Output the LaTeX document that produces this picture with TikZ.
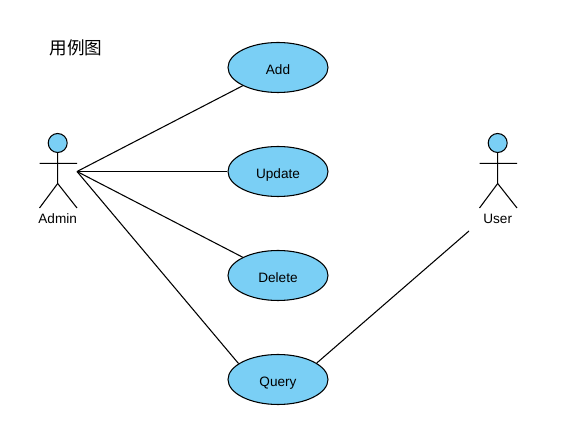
\documentclass[tikz,border=0pt]{standalone}
\usepackage{fontspec}
\setmainfont{Liberation Sans}
\newfontfamily\cjk{Noto Sans CJK SC}
\usetikzlibrary{shapes.geometric}

\definecolor{usecase}{RGB}{122,207,245}

\begin{document}
\begin{tikzpicture}[-,x=0.75pt,y=-0.75pt,node distance=78pt,
  line width=0.8pt,
  case node/.style={ellipse,fill=usecase,draw,minimum width=75pt,minimum height=37.5pt,inner sep=0pt,text depth=0pt,text height=9.8pt,font=\fontsize{10.2}{12}\selectfont},
  head node/.style={circle,fill=usecase,draw,minimum size=14.25pt,inner sep=0pt},
  actor label/.style={font=\fontsize{10.2}{12}\selectfont,inner sep=0pt}]

  \useasboundingbox (0,0) rectangle (586,441);

  \node[case node] (add) at (278,67.5) {Add};
  \node[case node] (update) [below of=add] {Update};
  \node[case node] (delete) [below of=update] {Delete};
  \node[case node] (query) [below of=delete] {Query};

  \node[inner sep=0pt,font=\fontsize{13.2}{15}\selectfont\cjk] (title) at (76,48) {用例图};

  % Admin
  \node[head node] (adminhead) at (57.7,143) {};
  \node[actor label] (admin) at (57.7,219) {Admin};
  \coordinate (adminhip) at (57.7,183.5);
  \coordinate (adminl) at (39.5,163.3);
  \coordinate (adminr) at (77,163.3);
  \coordinate (adminfl) at (39.5,208);
  \coordinate (adminfr) at (77,208);
  \coordinate (adminend) at (77,171.5);
  \draw (adminhead) -- (adminhip) (adminl) -- (adminr)
        (adminfl) -- (adminhip) -- (adminfr);

  % User
  \node[head node] (userhead) at (497.7,143) {};
  \node[actor label] (user) at (497.7,219) {User};
  \coordinate (userhip) at (497.7,183.5);
  \coordinate (userl) at (479.5,163.3);
  \coordinate (userr) at (517,163.3);
  \coordinate (userfl) at (479.5,208);
  \coordinate (userfr) at (517,208);
  \coordinate (userend) at (469,231);
  \draw (userhead) -- (userhip) (userl) -- (userr)
        (userfl) -- (userhip) -- (userfr);

  \path
    (adminend) edge (add)
               edge (update)
               edge (delete)
               edge (query.158)
    (userend) edge (query.23);
\end{tikzpicture}
\end{document}
